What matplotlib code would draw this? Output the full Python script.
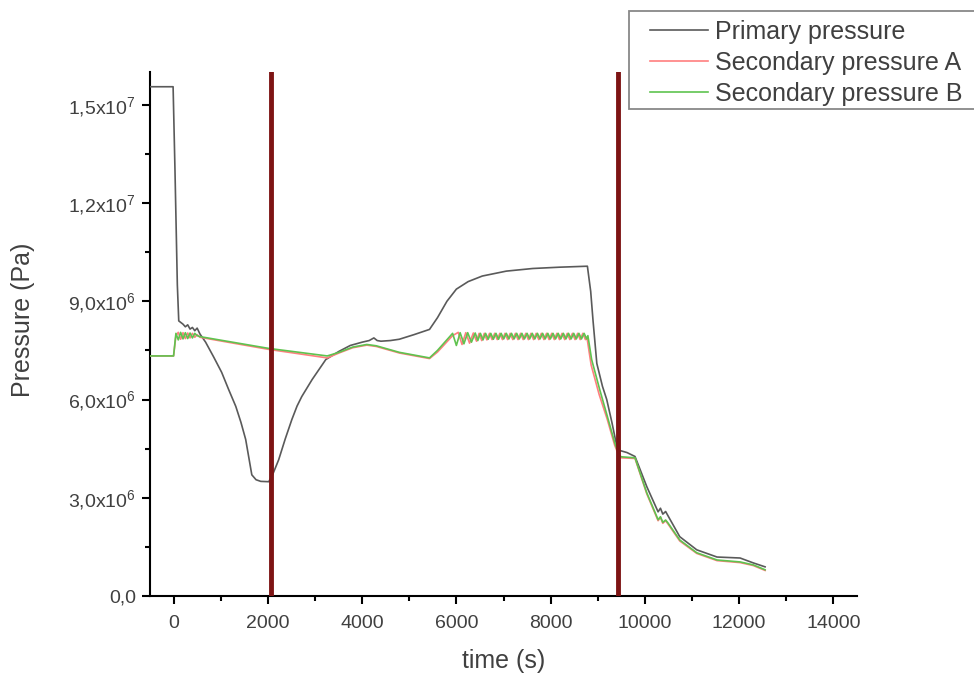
import matplotlib
matplotlib.use("Agg")
import matplotlib.pyplot as plt
from matplotlib.patches import Rectangle
from matplotlib.ticker import MultipleLocator

plt.rcParams['font.family'] = ['Liberation Sans', 'DejaVu Sans']
plt.rcParams['mathtext.fontset'] = 'custom'
plt.rcParams['mathtext.rm'] = 'Liberation Sans'

# --- data (pressure in units of 1e6 Pa) ---
prim_t = [-500, -10, 30, 80, 110, 200, 250, 300, 350, 400, 450, 500, 560, 680, 850,
          1020, 1170, 1320, 1430, 1530, 1600, 1660, 1750, 1850, 2020, 2100, 2230,
          2370, 2510, 2620, 2720, 2940, 3230, 3510, 3750, 4000, 4150, 4250, 4320,
          4400, 4600, 4790, 5100, 5430, 5600, 5800, 6000, 6250, 6550, 7060, 7620,
          8190, 8780, 8850, 8900, 8980, 9100, 9190, 9300, 9400, 9450, 9620, 9790,
          10040, 10280, 10330, 10380, 10440, 10490, 10740, 11100, 11530, 12020,
          12300, 12550]
prim_p = [15.55, 15.55, 13.0, 9.5, 8.4, 8.3, 8.22, 8.28, 8.15, 8.2, 8.1, 8.18, 8.0,
          7.75, 7.3, 6.83, 6.3, 5.79, 5.3, 4.78, 4.2, 3.7, 3.55, 3.5, 3.49, 3.7,
          4.16, 4.8, 5.39, 5.8, 6.09, 6.61, 7.22, 7.47, 7.65, 7.75, 7.8, 7.88, 7.8,
          7.78, 7.8, 7.84, 7.98, 8.14, 8.5, 9.0, 9.37, 9.6, 9.77, 9.92, 10.0, 10.04,
          10.07, 9.3, 8.4, 7.1, 6.4, 6.0, 5.3, 4.6, 4.45, 4.38, 4.26, 3.34, 2.57,
          2.68, 2.5, 2.58, 2.45, 1.81, 1.41, 1.19, 1.16, 1.01, 0.89]

secB_t = [-500, 0, 50, 100, 150, 200, 250, 300, 350, 400, 450, 500, 560, 2020, 3260,
          3510, 3800, 4100, 4300, 4790, 5430, 5600, 5920, 6000, 6080, 6160, 6240,
          6320, 6400, 6455, 6510, 6565, 6620, 6675, 6730, 6785, 6840, 6895, 6950,
          7005, 7060, 7115, 7170, 7225, 7280, 7335, 7390, 7445, 7500, 7555, 7610,
          7665, 7720, 7775, 7830, 7885, 7940, 7995, 8050, 8105, 8160, 8215, 8270,
          8325, 8380, 8435, 8490, 8545, 8600, 8655, 8710, 8765, 8790, 8870, 9040,
          9200, 9360, 9450, 9500, 9790, 10040, 10280, 10330, 10380, 10440, 10490,
          10740, 11100, 11530, 12020, 12300, 12550]
secB_p = [7.33, 7.33, 8.02, 7.82, 8.05, 7.85, 8.04, 7.86, 8.03, 7.88, 8.02, 7.95,
          7.92, 7.56, 7.33, 7.44, 7.6, 7.68, 7.64, 7.44, 7.27, 7.5, 8.02, 7.65, 8.04,
          7.7, 8.04, 7.75, 8.03, 7.8, 8.02, 7.82, 8.02, 7.84, 8.02, 7.84, 8.02, 7.84,
          8.02, 7.85, 8.02, 7.85, 8.02, 7.85, 8.02, 7.85, 8.02, 7.85, 8.02, 7.85,
          8.02, 7.85, 8.02, 7.85, 8.02, 7.85, 8.02, 7.85, 8.02, 7.85, 8.02, 7.85,
          8.02, 7.85, 8.02, 7.85, 8.02, 7.85, 8.02, 7.85, 8.02, 7.85, 7.95, 7.22,
          6.31, 5.5, 4.68, 4.3, 4.25, 4.22, 3.15, 2.33, 2.42, 2.25, 2.32, 2.23, 1.71,
          1.32, 1.1, 1.04, 0.95, 0.8]

secA_t = [-500, 0, 50, 100, 150, 200, 250, 300, 350, 400, 450, 500, 560, 2020, 3260,
          3510, 3800, 4100, 4300, 4790, 5430, 5600, 5920, 6040, 6120, 6200, 6280,
          6360, 6428, 6483, 6538, 6593, 6648, 6703, 6758, 6813, 6868, 6923, 6978,
          7033, 7088, 7143, 7198, 7253, 7308, 7363, 7418, 7473, 7528, 7583, 7638,
          7693, 7748, 7803, 7858, 7913, 7968, 8023, 8078, 8133, 8188, 8243, 8298,
          8353, 8408, 8463, 8518, 8573, 8628, 8683, 8738, 8770, 8860, 9030,
          9200, 9360, 9450, 9500, 9790, 10040, 10280, 10330, 10380, 10440, 10490,
          10740, 11100, 11530, 12020, 12300, 12550]
secA_p = [7.33, 7.33, 7.95, 8.05, 7.84, 8.04, 7.86, 8.03, 7.88, 8.02, 7.9, 7.98,
          7.9, 7.53, 7.27, 7.42, 7.58, 7.66, 7.62, 7.42, 7.25, 7.45, 7.95, 8.05, 7.68,
          8.04, 7.72, 8.03, 7.78, 8.02, 7.8, 8.02, 7.82, 8.02, 7.83, 8.02, 7.83, 8.02,
          7.83, 8.02, 7.83, 8.02, 7.83, 8.02, 7.83, 8.02, 7.83, 8.02, 7.83, 8.02,
          7.83, 8.02, 7.83, 8.02, 7.83, 8.02, 7.83, 8.02, 7.83, 8.02, 7.83, 8.02,
          7.83, 8.02, 7.83, 8.02, 7.83, 8.02, 7.83, 8.02, 7.83, 7.9, 7.05,
          6.15, 5.4, 4.6, 4.28, 4.22, 4.2, 3.12, 2.3, 2.4, 2.22, 2.3, 2.2, 1.68,
          1.3, 1.08, 1.02, 0.93, 0.78]

marker_t = [2070, 9430]

ytick_vals = [0, 3, 6, 9, 12, 15]
ytick_labels = ['0,0', r'3,0x10$^{6}$', r'6,0x10$^{6}$', r'9,0x10$^{6}$',
                r'1,2x10$^{7}$', r'1,5x10$^{7}$']
xtick_vals = [0, 2000, 4000, 6000, 8000, 10000, 12000, 14000]

fig = plt.figure(figsize=(9.74, 6.78), dpi=100)
ax = fig.add_axes([150 / 974, 1 - 596 / 678, 707 / 974, 524 / 678])

ax.plot(prim_t, prim_p, color='#5a5a5a', lw=1.2, label='Primary pressure', zorder=3)
ax.plot(secA_t, secA_p, color='#ff7f7f', lw=1.2, label='Secondary pressure A', zorder=4)
ax.plot(secB_t, secB_p, color='#5fc34f', lw=1.2, label='Secondary pressure B', zorder=5)
for t in marker_t:
    ax.axvline(t, color='#7d1414', lw=3.5, zorder=6)

ax.set_xlim(-500, 14500)
ax.set_ylim(0, 16)
ax.set_xticks(xtick_vals)
ax.set_yticks(ytick_vals)
ax.set_yticklabels(ytick_labels)
ax.xaxis.set_minor_locator(MultipleLocator(1000))
ax.yaxis.set_minor_locator(MultipleLocator(1.5))
ax.tick_params(which='major', direction='out', length=6, width=1.5, labelsize=14,
               labelcolor='#404040', pad=4)
ax.tick_params(axis='x', which='major', pad=8)
ax.tick_params(which='minor', direction='out', length=3.5, width=1.5)
for side in ['top', 'right']:
    ax.spines[side].set_visible(False)
for side in ['left', 'bottom']:
    ax.spines[side].set_linewidth(1.5)

ax.set_xlabel('time (s)', fontsize=18, color='#404040', labelpad=12)
ax.set_ylabel('Pressure (Pa)', fontsize=18, color='#404040')
ax.yaxis.set_label_coords(-0.163, 0.527)

# legend frame runs off the right edge of the figure, as in the original
fig.add_artist(Rectangle((629 / 974, 1 - 109 / 678), 360 / 974, 98 / 678,
                         transform=fig.transFigure, facecolor='white',
                         edgecolor='#888888', lw=1.3, zorder=7))
handles, labels = ax.get_legend_handles_labels()
leg = fig.legend(handles, labels, loc='upper left',
                 bbox_to_anchor=(650 / 974, 1 - 20 / 678),
                 bbox_transform=fig.transFigure, fontsize=18, frameon=False,
                 handlelength=2.3, borderpad=0, labelspacing=0.28,
                 handletextpad=0.3, borderaxespad=0)
leg.set_zorder(8)
for txt in leg.get_texts():
    txt.set_color('#404040')

fig.savefig('out.png', dpi=100)
